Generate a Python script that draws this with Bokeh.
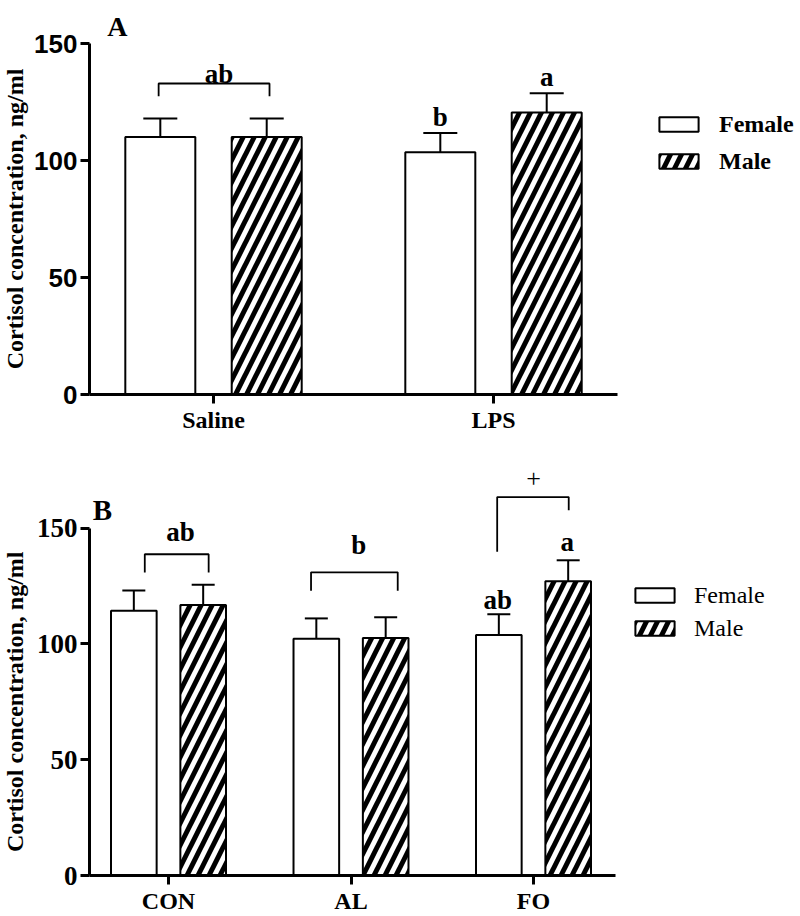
import numpy as np
from bokeh.plotting import figure
from bokeh.layouts import column, row
from bokeh.models import (ColumnDataSource, FixedTicker, Whisker, TeeHead, Legend,
                          LegendItem, Range1d)
from bokeh.core.properties import value
from bokeh.embed import file_html
from bokeh.resources import INLINE

SERIF = "Liberation Serif"
SANS = "Liberation Sans"

# ---------------- Panel A data ----------------
a_groups = ["Saline", "LPS"]
a_female = [110.0, 103.5]
a_female_err = [8.0, 8.3]
a_male = [110.0, 120.5]
a_male_err = [8.0, 8.2]
# significance letters (x in group units, y = baseline value)
a_letters = ["ab", "b", "a"]
a_letter_x = [1.02, 1.81, 2.19]
a_letter_y = [137.0, 118.5, 135.9]
# brackets
a_br_x0 = [0.804]
a_br_x1 = [1.20]
a_br_top = [132.9]
a_br_end0 = [127.5]
a_br_end1 = [127.5]

# ---------------- Panel B data ----------------
b_groups = ["CON", "AL", "FO"]
b_female = [114.3, 102.2, 103.8]
b_female_err = [8.7, 8.8, 9.0]
b_male = [116.8, 102.5, 127.1]
b_male_err = [8.7, 9.0, 9.0]
b_letters = ["ab", "b", "ab", "a"]
b_letter_x = [1.066, 2.042, 2.804, 3.185]
b_letter_y = [148.4, 142.7, 119.0, 144.1]
b_plus = ["+"]
b_plus_x = [3.0]
b_plus_y = [171.5]
b_br_x0 = [0.87, 1.781, 2.801]
b_br_x1 = [1.22, 2.256, 3.193]
b_br_top = [138.7, 130.9, 163.4]
b_br_end0 = [130.8, 122.9, 139.8]
b_br_end1 = [130.8, 122.9, 157.7]

Y_TICKS = [0, 50, 100, 150]
Y_LABEL = "Cortisol concentration, ng/ml"
BAR_W = 0.25
OFFSET = 0.19
LABEL_W = 30          # width of the strip holding the y-axis title
TOTAL_W = 800


def label_strip(height, border_bottom, y_end):
    """Narrow strip left of a panel that carries the y-axis title,
    centred on the drawn part of the axis (0..150)."""
    s = figure(width=LABEL_W, height=height, output_backend="svg", toolbar_location=None,
               x_range=Range1d(0, LABEL_W), y_range=Range1d(0, y_end),
               min_border_left=0, min_border_right=0, min_border_top=0,
               min_border_bottom=border_bottom)
    s.axis.visible = False
    s.grid.visible = False
    s.outline_line_color = None
    s.text(x=[14.5], y=[75], text=[Y_LABEL], angle=np.pi / 2, text_align="center",
           text_baseline="middle", text_font=value(SERIF), text_font_style="bold",
           text_font_size="24px", text_color="black")
    return s


def make_panel(groups, fem, fem_err, mal, mal_err, *, height, border_bottom, x_start,
               x_end, y_end, x_bounds, tick_font, tick_size, legend_loc, legend_bold,
               legend_size, legend_label_h, legend_standoff, cap_px):
    p = figure(width=TOTAL_W - LABEL_W, height=height, output_backend="svg",
               toolbar_location=None,
               x_range=Range1d(x_start, x_end), y_range=Range1d(0, y_end),
               min_border_left=89 - LABEL_W, min_border_right=0, min_border_top=0,
               min_border_bottom=border_bottom)
    p.outline_line_color = None
    p.xgrid.visible = False
    p.ygrid.visible = False
    p.background_fill_color = "white"

    x = np.arange(1, len(groups) + 1, dtype=float)
    fem = np.array(fem); mal = np.array(mal)
    fem_err = np.array(fem_err); mal_err = np.array(mal_err)
    src_f = ColumnDataSource(dict(x=x - OFFSET, top=fem, lo=fem - fem_err, hi=fem + fem_err))
    src_m = ColumnDataSource(dict(x=x + OFFSET, top=mal, lo=mal - mal_err, hi=mal + mal_err))

    rf = p.vbar(x="x", top="top", bottom=0, width=BAR_W, source=src_f,
                fill_color="white", line_color="black", line_width=2)
    rm = p.vbar(x="x", top="top", bottom=0, width=BAR_W, source=src_m,
                fill_color="white", line_color="black", line_width=2,
                hatch_pattern="/", hatch_color="black", hatch_scale=22, hatch_weight=5)

    for src in (src_f, src_m):
        w = Whisker(base="x", upper="hi", lower="lo", source=src,
                    line_color="black", line_width=2,
                    upper_head=TeeHead(size=cap_px, line_width=2, line_color="black"),
                    lower_head=TeeHead(size=cap_px, line_width=2, line_color="black"))
        p.add_layout(w)

    yax = p.yaxis[0]
    yax.bounds = (0, 150)
    yax.ticker = FixedTicker(ticks=Y_TICKS)
    yax.minor_tick_line_color = None
    yax.major_tick_in = 0
    yax.major_tick_out = 9
    yax.axis_line_width = 3
    yax.major_tick_line_width = 3
    yax.axis_line_color = "black"
    yax.major_tick_line_color = "black"
    yax.major_label_text_color = "black"
    yax.major_label_text_font = tick_font
    yax.major_label_text_font_style = "bold"
    yax.major_label_text_font_size = tick_size
    yax.major_label_standoff = 3

    xax = p.xaxis[0]
    xax.bounds = x_bounds
    xax.ticker = FixedTicker(ticks=list(x))
    xax.major_label_overrides = {float(v): g for v, g in zip(x, groups)}
    xax.minor_tick_line_color = None
    xax.major_tick_in = 0
    xax.major_tick_out = 9
    xax.axis_line_width = 3
    xax.major_tick_line_width = 3
    xax.axis_line_color = "black"
    xax.major_tick_line_color = "black"
    xax.major_label_text_color = "black"
    xax.major_label_text_font = SERIF
    xax.major_label_text_font_style = "bold"
    xax.major_label_text_font_size = "24px"
    xax.major_label_standoff = 3

    legend = Legend(items=[LegendItem(label="Female", renderers=[rf]),
                           LegendItem(label="Male", renderers=[rm])],
                    location=legend_loc, orientation="vertical",
                    border_line_color=None, background_fill_alpha=0,
                    glyph_width=49, glyph_height=18, label_standoff=legend_standoff,
                    label_height=legend_label_h, spacing=3, padding=0, margin=0,
                    label_text_font=SERIF, label_text_color="black",
                    label_text_font_style="bold" if legend_bold else "normal",
                    label_text_font_size=legend_size)
    p.add_layout(legend)
    return p


def add_brackets(p, x0, x1, top, e0, e1):
    xs = [[a, a, b, b] for a, b in zip(x0, x1)]
    ys = [[c, t, t, d] for c, t, d in zip(e0, top, e1)]
    p.multi_line(xs=xs, ys=ys, line_color="black", line_width=1.8)


# ---------------- Figure A ----------------
HA, BA, YA = 450, 56, 168.38
pa = make_panel(a_groups, a_female, a_female_err, a_male, a_male_err,
                height=HA, border_bottom=BA, x_start=0.5571, x_end=3.0964, y_end=YA,
                x_bounds=(0.5571, 2.4429), tick_font=SANS, tick_size="26px",
                legend_loc=(565, 216), legend_bold=True, legend_size="24px",
                legend_label_h=34, legend_standoff=16, cap_px=34)
add_brackets(pa, a_br_x0, a_br_x1, a_br_top, a_br_end0, a_br_end1)
pa.text(x=a_letter_x, y=a_letter_y, text=a_letters, text_font=value(SERIF),
        text_font_style="bold", text_font_size="27px", text_align="center",
        text_baseline="alphabetic", text_color="black")
pa.text(x=[0.657], y=[157.3], text=["A"], text_font=value(SERIF), text_font_style="bold",
        text_font_size="28px", text_align="center", text_baseline="alphabetic",
        text_color="black")

# ---------------- Figure B ----------------
HB, BB, YB = 466, 39, 183.5
pb = make_panel(b_groups, b_female, b_female_err, b_male, b_male_err,
                height=HB, border_bottom=BB, x_start=0.5671, x_end=4.4630, y_end=YB,
                x_bounds=(0.5671, 3.4493), tick_font=SERIF, tick_size="27px",
                legend_loc=(541, 232), legend_bold=False, legend_size="24px",
                legend_label_h=30, legend_standoff=15, cap_px=23)
add_brackets(pb, b_br_x0, b_br_x1, b_br_top, b_br_end0, b_br_end1)
pb.text(x=b_letter_x, y=b_letter_y, text=b_letters, text_font=value(SERIF),
        text_font_style="bold", text_font_size="27px", text_align="center",
        text_baseline="alphabetic", text_color="black")
pb.text(x=b_plus_x, y=b_plus_y, text=b_plus, text_font=value(SERIF),
        text_font_size="26px", text_align="center", text_baseline="middle",
        text_color="black")
pb.text(x=[0.638], y=[157.7], text=["B"], text_font=value(SERIF), text_font_style="bold",
        text_font_size="29px", text_align="center", text_baseline="alphabetic",
        text_color="black")

la = label_strip(HA, BA, YA)
lb = label_strip(HB, BB, YB)

layout = column(row(la, pa, spacing=0), row(lb, pb, spacing=0), spacing=0)
open("out.html", "w").write(file_html(layout, INLINE))
